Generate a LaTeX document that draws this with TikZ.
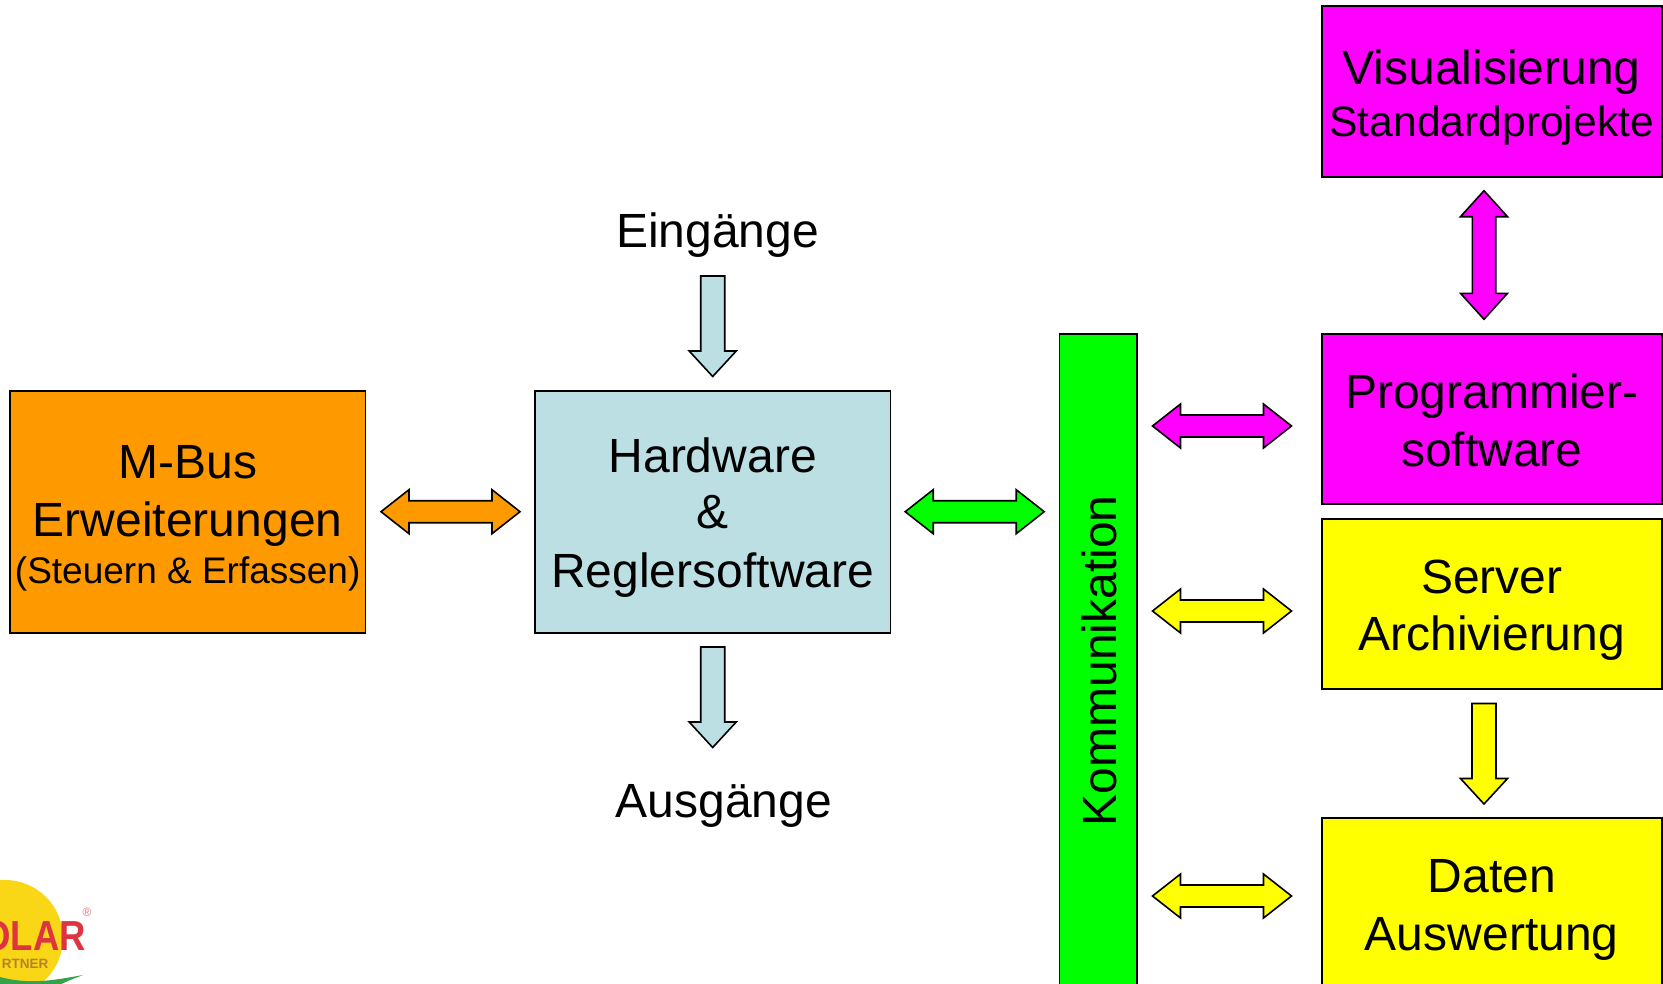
\documentclass[tikz,border=0pt]{standalone}
\usepackage{fontspec}
\setmainfont{Liberation Sans}
\definecolor{cOrange}{HTML}{FF9900}
\definecolor{cBlue}{HTML}{BBDFE3}
\definecolor{cMag}{HTML}{FF00FF}
\definecolor{cYel}{HTML}{FFFF00}
\definecolor{cGrn}{HTML}{00FF00}
\definecolor{cSun}{HTML}{F9D616}
\definecolor{cRed}{HTML}{DE3340}
\definecolor{cLeaf}{HTML}{35A24A}
\definecolor{cTiny}{HTML}{B8802A}
\tikzset{
  boxnode/.style={draw=black,line width=1.7pt,rectangle,inner sep=0pt,outer sep=0pt},
  blockarrow/.style={draw=black,line width=1.6pt,miter limit=4},
  big/.style={anchor=base,inner sep=0pt,font=\fontsize{48}{57}\selectfont},
  mid/.style={anchor=base,inner sep=0pt,font=\fontsize{42.6}{50}\selectfont},
  small/.style={anchor=base,inner sep=0pt,font=\fontsize{37}{44}\selectfont},
}
% horizontal double block arrow: name, colour, centre
\newcommand{\hblock}[3]{\coordinate (#1) at (#3);
  \draw[blockarrow,fill=#2,shift={(#1)}] (-69.5,0) -- (-41.5,-22) -- (-41.5,-11) -- (41.5,-11) -- (41.5,-22) -- (69.5,0) -- (41.5,22) -- (41.5,11) -- (-41.5,11) -- (-41.5,22) -- cycle;}
% vertical double block arrow
\newcommand{\vblock}[3]{\coordinate (#1) at (#3);
  \draw[blockarrow,fill=#2,shift={(#1)}] (0,-64.3) -- (23.5,-38.3) -- (11.7,-38.3) -- (11.7,38.3) -- (23.5,38.3) -- (0,64.3) -- (-23.5,38.3) -- (-11.7,38.3) -- (-11.7,-38.3) -- (-23.5,-38.3) -- cycle;}
% downward block arrow (origin at its tail centre)
\newcommand{\dblock}[3]{\coordinate (#1) at (#3);
  \draw[blockarrow,fill=#2,shift={(#1)}] (-12,0) -- (12,0) -- (12,75) -- (23.5,75) -- (0,100.5) -- (-23.5,75) -- (-12,75) -- cycle;}
\begin{document}
\begin{tikzpicture}[x=1pt,y=-1pt]
\clip (0,0) rectangle (1663,983);
\fill[white] (0,0) rectangle (1663,983);
% logo
\fill[cSun] (5,938) circle[radius=58];
\fill[cLeaf] (0,977) .. controls (30,985) and (55,980) .. (83,975) .. controls (70,980) and (60,984) .. (50,990) -- (0,990) -- cycle;
\node[anchor=base east,inner sep=0pt,text=cRed,font=\fontsize{42}{46}\bfseries\selectfont] (logoa) at (86,950) {\scalebox{0.87}[1]{OLAR}};
\node[anchor=base east,inner sep=0pt,text=cTiny,font=\fontsize{13.5}{15}\bfseries\selectfont] (logob) at (48.5,968.5) {RTNER};
\node[inner sep=0pt,text=cRed!70,font=\fontsize{12}{12}\selectfont] (logoc) at (87,912) {®};
% boxes
\node[boxnode,fill=cMag,minimum width=340pt,minimum height=171.3pt] (visu) at (1492,91.3) {};
\node[boxnode,fill=cMag,minimum width=340pt,minimum height=170.5pt] (prog) at (1492,419) {};
\node[boxnode,fill=cYel,minimum width=340pt,minimum height=170.5pt] (serv) at (1492,604) {};
\node[boxnode,fill=cYel,minimum width=340pt,minimum height=200pt] (dat) at (1492,917.7) {};
\node[boxnode,fill=cGrn,minimum width=77.5pt,minimum height=699.5pt] (komm) at (1098.2,683.5) {};
\node[boxnode,fill=cOrange,minimum width=355.4pt,minimum height=242.3pt] (mbus) at (187.7,511.9) {};
\node[boxnode,fill=cBlue,minimum width=355.4pt,minimum height=242.3pt] (hw) at (712.7,511.9) {};
% block arrows
\hblock{a1}{cOrange}{450.5,511.7}
\hblock{a2}{cGrn}{974.7,511.7}
\hblock{a3}{cMag}{1222,426}
\hblock{a4}{cYel}{1222,611}
\hblock{a5}{cYel}{1222,896}
\vblock{a6}{cMag}{1484,255}
\dblock{a7}{cYel}{1484,703.5}
\dblock{a8}{cBlue}{712.7,276}
\dblock{a9}{cBlue}{712.7,647}
% text
\node[big] (t1) at (187.7,478.6) {M-Bus};
\node[big] (t2) at (187.7,536.5) {Erweiterungen};
\node[small] (t3) at (187.7,583.5) {(Steuern \& Erfassen)};
\node[big] (t4) at (712.7,472.5) {Hardware};
\node[big] (t5) at (712.7,528.5) {\&};
\node[big] (t6) at (712.7,587) {Reglersoftware};
\node[big] (t7) at (717.5,247) {Eingänge};
\node[big] (t8) at (724,817.5) {Ausgänge};
\node[big] (t9) at (1491.7,84) {Visualisierung};
\node[mid] (t10) at (1491.7,136) {Standardprojekte};
\node[big] (t11) at (1491.7,408.6) {Programmier-};
\node[big] (t12) at (1491.7,466.7) {software};
\node[big] (t13) at (1491.7,593) {Server};
\node[big] (t14) at (1491.7,650) {Archivierung};
\node[big] (t15) at (1491.7,892) {Daten};
\node[big] (t16) at (1491.7,950.5) {Auswertung};
\node[big,rotate=90] (t17) at (1116,660.7) {Kommunikation};
\end{tikzpicture}
\end{document}
